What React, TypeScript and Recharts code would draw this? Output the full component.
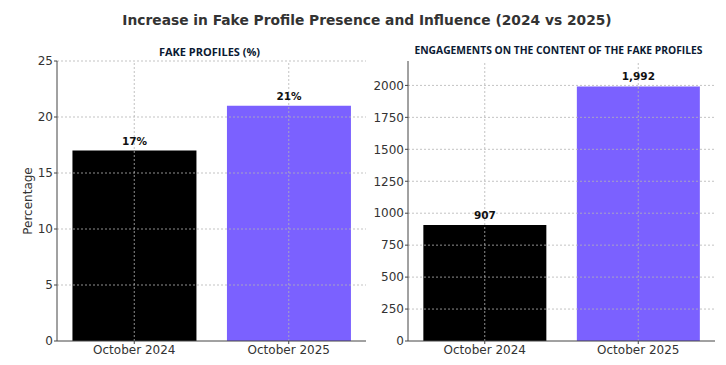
import React from 'react';
import { BarChart, Bar, XAxis, YAxis, ReferenceLine, LabelList, Cell } from 'recharts';

const MONTHS = ['October 2024', 'October 2025'];
const FAKE_PROFILE_PCT = [17, 21];
const ENGAGEMENTS = [907, 1992];
const PCT_TICKS = [0, 5, 10, 15, 20, 25];
const ENG_TICKS = [0, 250, 500, 750, 1000, 1250, 1500, 1750, 2000];
const BAR_COLORS = ['#000000', '#7b61ff'];

const pctData = MONTHS.map((m, i) => ({ month: m, value: FAKE_PROFILE_PCT[i] }));
const engData = MONTHS.map((m, i) => ({ month: m, value: ENGAGEMENTS[i] }));

const FONT = 'DejaVu Sans, sans-serif';
const SUB_FONT = '"Liberation Sans Narrow", "Open Sans", sans-serif';
const tickStyle = { fontSize: 12, fill: '#333', fontFamily: FONT };
const labelStyle = { fontSize: 10.5, fontWeight: 700, fill: '#111', fontFamily: FONT };
const GRID = { stroke: '#b4b4b4', strokeDasharray: '2 2', strokeWidth: 0.8 };

// grid drawn as reference lines so it sits over the bars, like the original
const gridLines = (ticks: number[]) => [
  ...ticks.filter(t => t > 0).map(t => <ReferenceLine key={`y${t}`} y={t} {...GRID} />),
  ...MONTHS.map(m => <ReferenceLine key={`x${m}`} x={m} {...GRID} />),
];

const App: React.FC = () => {
  return (
    <div style={{ position: 'absolute', left: 0, top: 0, width: 726, height: 365, background: '#fff' }}>
      <div style={{ position: 'absolute', top: 12, left: 4, width: 726, textAlign: 'center', fontFamily: FONT, fontWeight: 700, fontSize: 13.8, color: '#333' }}>
        Increase in Fake Profile Presence and Influence (2024 vs 2025)
      </div>
      <div style={{ position: 'absolute', top: 44, left: 55, width: 309, textAlign: 'center', fontFamily: SUB_FONT, fontWeight: 700, fontSize: 11, color: '#0b1a33' }}>
        FAKE PROFILES (%)
      </div>
      <div style={{ position: 'absolute', top: 43, left: 405, width: 307, textAlign: 'center', fontFamily: SUB_FONT, fontWeight: 700, fontSize: 10.3, color: '#0b1a33' }}>
        ENGAGEMENTS ON THE CONTENT OF THE FAKE PROFILES
      </div>

      <div style={{ position: 'absolute', left: 0, top: 0 }}>
        <BarChart width={370} height={365} data={pctData} margin={{ top: 61, right: 4, left: 0, bottom: 0 }} barCategoryGap="10%">
          <XAxis dataKey="month" tick={tickStyle} tickSize={3} tickMargin={1} height={24} axisLine={{ stroke: '#444' }} tickLine={{ stroke: '#444' }} />
          <YAxis
            domain={[0, 25]}
            ticks={PCT_TICKS}
            width={57}
            tick={tickStyle}
            tickSize={3}
            tickMargin={1}
            axisLine={{ stroke: '#444' }}
            tickLine={{ stroke: '#444' }}
            label={{ value: 'Percentage', angle: -90, position: 'insideLeft', offset: 28, style: { ...tickStyle, textAnchor: 'middle' } }}
          />
          <Bar dataKey="value" isAnimationActive={false}>
            {pctData.map((d, i) => <Cell key={d.month} fill={BAR_COLORS[i]} />)}
            <LabelList dataKey="value" position="top" offset={6} formatter={(v: any) => `${v}%`} style={labelStyle} />
          </Bar>
          {gridLines(PCT_TICKS)}
        </BarChart>
      </div>

      <div style={{ position: 'absolute', left: 370, top: 0 }}>
        <BarChart width={356} height={365} data={engData} margin={{ top: 61, right: 11, left: 0, bottom: 0 }} barCategoryGap="10%">
          <XAxis dataKey="month" tick={tickStyle} tickSize={3} tickMargin={1} height={24} axisLine={{ stroke: '#444' }} tickLine={{ stroke: '#444' }} />
          <YAxis
            domain={[0, 2191]}
            ticks={ENG_TICKS}
            width={38}
            tick={tickStyle}
            tickSize={3}
            tickMargin={1}
            axisLine={{ stroke: '#444' }}
            tickLine={{ stroke: '#444' }}
          />
          <Bar dataKey="value" isAnimationActive={false}>
            {engData.map((d, i) => <Cell key={d.month} fill={BAR_COLORS[i]} />)}
            <LabelList dataKey="value" position="top" offset={6} formatter={(v: any) => Number(v).toLocaleString('en-US')} style={labelStyle} />
          </Bar>
          {gridLines(ENG_TICKS)}
        </BarChart>
      </div>
    </div>
  );
};

export default App;
